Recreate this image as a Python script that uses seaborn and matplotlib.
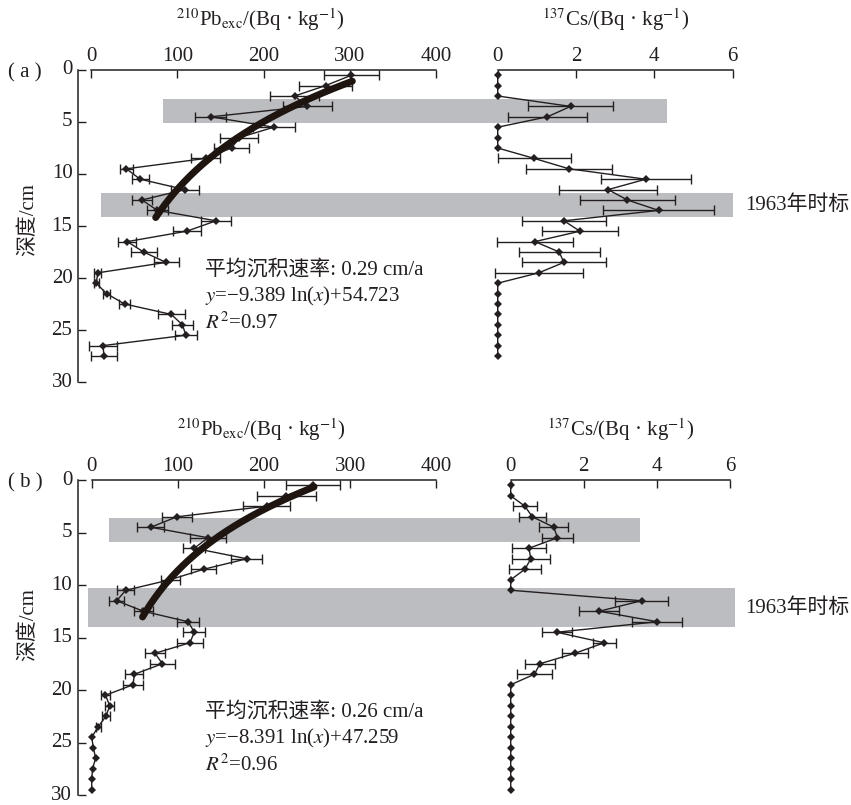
import numpy as np
import pandas as pd
import matplotlib
matplotlib.use('Agg')
import matplotlib.pyplot as plt
import matplotlib.transforms as mtransforms
from matplotlib.patches import Rectangle
import seaborn as sns

#%% values
depth_a = [0.5, 1.5, 2.5, 3.5, 4.5, 5.5, 6.5, 7.5, 8.5, 9.5, 10.5, 11.5, 12.5, 13.5,
           14.5, 15.5, 16.5, 17.5, 18.5, 19.5, 20.5, 21.5, 22.5, 23.5, 24.5, 25.5, 26.5, 27.5]
pb_a = [302, 272, 236, 251, 139, 212, 172, 163, 133, 41, 57, 109, 59, 77,
        145, 111, 42, 61, 87, 8, 6, 18, 39, 93, 106, 110, 14, 15]
pb_a_err = [32, 31, 28, 28, 18, 24, 22, 20, 17, 7.5, 10, 16, 12, 12.5,
            17.5, 16.5, 10.5, 15, 14.5, 4, 3, 4.5, 6.5, 15.5, 12.5, 13, 16.5, 15.5]
cs_a = [0, 0, 0, 1.86, 1.27, 0, 0, 0, 0.93, 1.82, 3.78, 2.82, 3.31, 4.11,
        1.69, 2.10, 0.95, 1.57, 1.69, 1.05, 0, 0, 0, 0, 0, 0, 0, 0]
cs_a_err = [0, 0, 0, 1.09, 1.0, 0, 0, 0, 0.93, 1.1, 1.15, 1.25, 1.22, 1.42,
            1.08, 0.97, 0.97, 1.03, 1.08, 1.13, 0, 0, 0, 0, 0, 0, 0, 0]

depth_b = [0.5, 1.5, 2.5, 3.5, 4.5, 5.5, 6.5, 7.5, 8.5, 9.5, 10.5, 11.5, 12.5, 13.5, 14.5,
           15.5, 16.5, 17.5, 18.5, 19.5, 20.5, 21.5, 22.5, 23.5, 24.5, 25.5, 26.5, 27.5, 28.5, 29.5]
pb_b = [257, 226, 203, 99, 68.5, 135, 119, 180, 130, 91, 39.5, 29, 60, 112, 119,
        114, 73.5, 82, 49.5, 48, 16, 21, 16.5, 7.5, 0, 2, 4.5, 1, 0, 0]
pb_b_err = [31, 34, 27, 17.5, 15.5, 20.5, 13, 18, 14.5, 11, 10, 8.5, 11, 13, 13,
            15.5, 11.5, 14.5, 10.5, 12, 5.5, 5, 5, 3, 0, 0, 0, 0, 0, 0]
cs_b = [0, 0, 0.39, 0.59, 1.18, 1.28, 0.50, 0.55, 0.39, 0, 0, 3.58, 2.42, 4.01, 1.26,
        2.56, 1.76, 0.80, 0.65, 0, 0, 0, 0, 0, 0, 0, 0, 0, 0, 0]
cs_b_err = [0, 0, 0.33, 0.37, 0.40, 0.43, 0.47, 0.52, 0.43, 0, 0, 0.73, 0.54, 0.68, 0.41,
            0.32, 0.35, 0.40, 0.47, 0, 0, 0, 0, 0, 0, 0, 0, 0, 0, 0]

# fitted CRS line: depth = k*ln(Pb) + b, drawn over the Pb range shown
fit_a = (-9.389, 54.723)
fit_a_pb = (75, 303)
fit_b = (-8.391, 47.259)
fit_b_pb = (59, 258)

# grey bands: depth top, depth bottom, left end (Pb units), right end (Cs units)
bands_a = [(2.75, 5.1, 84, 4.32), (11.8, 14.1, 12, 6.0)]
bands_b = [(3.6, 5.9, 20, 3.54), (10.3, 14.0, -4, 6.14)]

rate_a = '平均沉积速率: 0.29 cm/a'
eq_a = '$y$=−9.389 ln($x$)+54.723'
r2_a = '$R^2$=0.97'
rate_b = '平均沉积速率: 0.26 cm/a'
eq_b = '$y$=−8.391 ln($x$)+47.259'
r2_b = '$R^2$=0.96'

#%% style
sns.set_theme(style='ticks')
plt.rcParams['font.family'] = ['Liberation Serif', 'Noto Sans CJK SC']
plt.rcParams['mathtext.fontset'] = 'stix'
plt.rcParams['axes.unicode_minus'] = False
FS = 15
INK = '#231f20'
BAND = '#bcbdc0'
W, H = 851, 805

fig = plt.figure(figsize=(W / 100, H / 100), dpi=100)
fig.patch.set_facecolor('white')


def px(x0, y0, x1, y1):
    # pixel box -> figure fraction rect
    return [x0 / W, 1 - y1 / H, (x1 - x0) / W, (y1 - y0) / H]


def fx(x):
    return x / W


def fy(y):
    return 1 - y / H


def profile(ax, depth, val, err):
    df = pd.DataFrame({'depth': depth, 'val': val, 'err': err})
    sns.lineplot(data=df, x='val', y='depth', orient='y', sort=False, estimator=None,
                 color=INK, lw=1.0, marker='D', markersize=4, markeredgewidth=0, ax=ax)
    e = df[df['err'] > 0]
    ax.errorbar(e['val'], e['depth'], xerr=e['err'], fmt='none', ecolor=INK,
                elinewidth=1.0, capsize=3.5, capthick=1.0)


def style_axis(ax, xlo, xhi, ticks, left):
    ax.set_facecolor('none')
    ax.set_xlim(xlo, xhi)
    ax.set_ylim(30, 0)
    ax.xaxis.tick_top()
    ax.set_xticks(ticks)
    ax.tick_params(axis='x', direction='in', length=6, width=1, color=INK,
                   labelsize=FS, pad=3, labelcolor=INK)
    ax.spines['top'].set_bounds(ticks[0], ticks[-1])
    ax.spines['bottom'].set_visible(False)
    ax.spines['right'].set_visible(False)
    if left:
        ax.set_yticks([0, 5, 10, 15, 20, 25, 30])
        ax.tick_params(axis='y', direction='in', length=6, width=1, color=INK,
                       labelsize=FS, pad=4, labelcolor=INK)
        for lbl in ax.get_yticklabels():
            lbl.set_va('center')
        ax.spines['left'].set_bounds(0, 30)
    else:
        ax.set_yticks([])
        ax.spines['left'].set_visible(False)
    for s in ax.spines.values():
        s.set_color(INK)
        s.set_linewidth(1.1)
    ax.set_xlabel('')
    ax.set_ylabel('')
    for art in ax.lines + ax.collections:
        art.set_clip_on(False)


def panel(top, bot, pb_x0, pb_zero, pb_400, cs_zero, cs_six, depth, pb, pb_err, cs, cs_err,
          fit, fit_pb, bands, tag, rate, eq, r2, ylab_y, text_y, mark_y):
    # pixel scale of the Pb axis gives the left limit
    per = (pb_400 - pb_zero) / 400
    xlo = (pb_x0 - pb_zero) / per
    ax_pb = fig.add_axes(px(pb_x0, top, pb_400, bot))
    ax_cs = fig.add_axes(px(cs_zero, top, cs_six, bot))

    profile(ax_pb, depth, pb, pb_err)
    xs = np.linspace(fit_pb[0], fit_pb[1], 200)
    sns.lineplot(x=xs, y=fit[0] * np.log(xs) + fit[1], orient='y', sort=False,
                 estimator=None, color='#1e1410', lw=5, ax=ax_pb)
    profile(ax_cs, depth, cs, cs_err)

    style_axis(ax_pb, xlo, 400, [0, 100, 200, 300, 400], True)
    style_axis(ax_cs, 0, 6, [0, 2, 4, 6], False)

    inv = fig.transFigure.inverted()
    tr = mtransforms.blended_transform_factory(fig.transFigure, ax_pb.transData)
    for d0, d1, l, r in bands:
        x0 = inv.transform(ax_pb.transData.transform((l, 0)))[0]
        x1 = inv.transform(ax_cs.transData.transform((r, 0)))[0]
        fig.add_artist(Rectangle((x0, d0), x1 - x0, d1 - d0, transform=tr,
                                 facecolor=BAND, edgecolor='none', zorder=-1))

    fig.text(fx((pb_zero + pb_400) / 2 - 3), fy(top - 50),
             r'$^{210}$Pb$_{\rm exc}$/(Bq · kg$^{-1}$)', ha='center', va='center',
             fontsize=FS, color=INK)
    fig.text(fx((cs_zero + cs_six) / 2), fy(top - 50),
             r'$^{137}$Cs/(Bq · kg$^{-1}$)', ha='center', va='center',
             fontsize=FS, color=INK)
    fig.text(fx(8), fy(top + 3), tag, ha='left', va='center', fontsize=FS, color=INK)
    fig.text(fx(28), fy(ylab_y), '深度/cm', rotation=90, ha='center', va='center',
             fontsize=FS, color=INK)
    for i, s in enumerate([rate, eq, r2]):
        fig.text(fx(205), fy(text_y + 26.5 * i), s, ha='left', va='center',
                 fontsize=FS, color=INK)
    fig.text(fx(745), fy(mark_y), '1963年时标', ha='left', va='center',
             fontsize=FS, color=INK)


panel(70, 382, 78, 91, 436, 497.7, 732.7, depth_a, pb_a, pb_a_err, cs_a, cs_a_err,
      fit_a, fit_a_pb, bands_a, '( a )', rate_a, eq_a, r2_a, 220, 270, 205)
panel(480, 795, 77.7, 91.7, 436.4, 510.7, 730, depth_b, pb_b, pb_b_err, cs_b, cs_b_err,
      fit_b, fit_b_pb, bands_b, '( b )', rate_b, eq_b, r2_b, 625, 712, 608)

fig.savefig('out.png', dpi=100)
